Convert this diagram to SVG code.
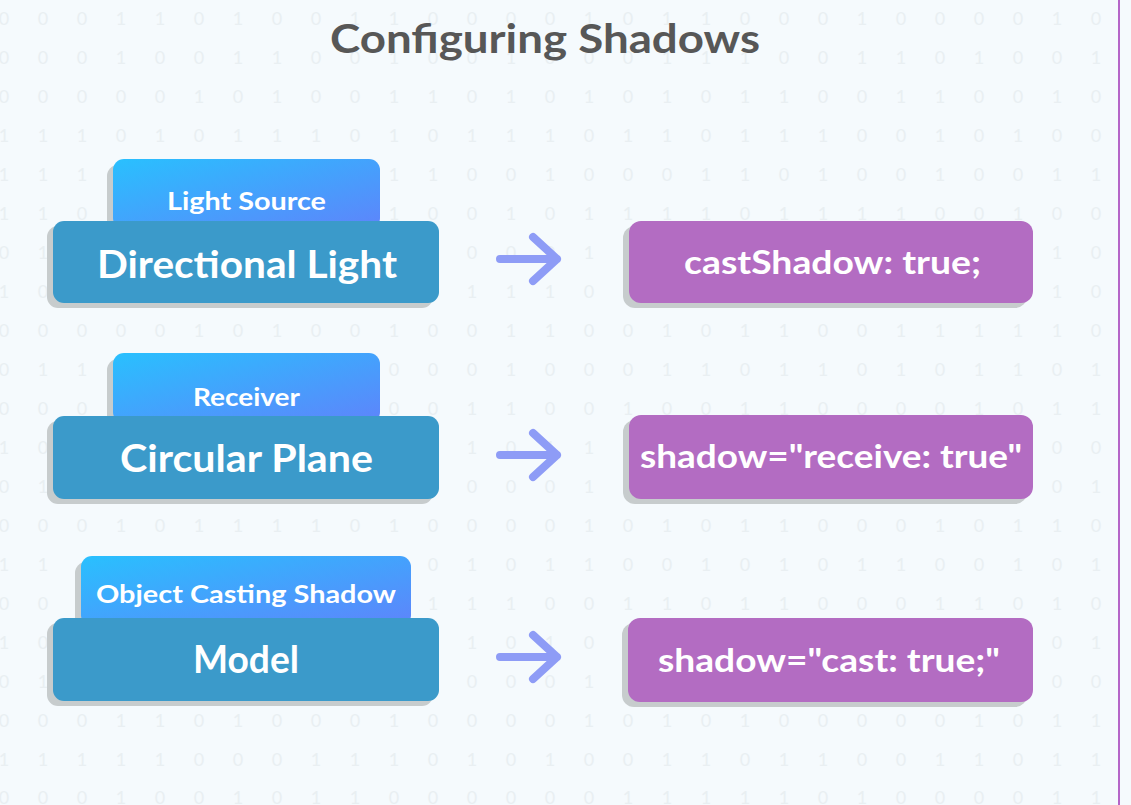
<svg xmlns="http://www.w3.org/2000/svg" width="1131" height="805" viewBox="0 0 1131 805">
<style>
.bg{fill:#f5fafd}
.dg{font-family:Lato,"Open Sans",sans-serif;font-size:18px;fill:#e9eff2;text-anchor:middle}
.title{font-family:Lato,"Open Sans",sans-serif;font-weight:700;font-size:40px;fill:#575757;text-anchor:middle}
.shadow{fill:#c7cccd}
.tab{fill:url(#tabGrad)}
.main{fill:#3b9aca}
.code{fill:#b36cc2}
.tt{font-family:Lato,"Open Sans",sans-serif;font-weight:700;font-size:25px;fill:#fff;text-anchor:middle}
.mt{font-family:Lato,"Open Sans",sans-serif;font-weight:700;font-size:38px;fill:#fff;text-anchor:middle}
.ct{font-family:Lato,"Open Sans",sans-serif;font-weight:700;font-size:33px;fill:#fff;text-anchor:middle}
.arrow{fill:none;stroke:#8e9cf6;stroke-width:8;stroke-linecap:round;stroke-linejoin:round}
</style>
<defs>
<linearGradient id="tabGrad" x1="0" y1="0" x2="1" y2="1">
<stop offset="0" stop-color="#29c0fe"/>
<stop offset="1" stop-color="#5e84fb"/>
</linearGradient>
</defs>
<rect class="bg" x="0" y="0" width="1131" height="805"/>
<g id="binary-background">
<text class="dg" y="25" x="4 43 82 121 160 199 238 277 316 355 394 433 472 511 550 589 628 667 706 745 784 823 862 901 940 979 1018 1057 1096">00011010011000010110001000010</text>
<text class="dg" y="64" x="4 43 82 121 160 199 238 277 316 355 394 433 472 511 550 589 628 667 706 745 784 823 862 901 940 979 1018 1057 1096">00010011001001000111001101001</text>
<text class="dg" y="103" x="4 43 82 121 160 199 238 277 316 355 394 433 472 511 550 589 628 667 706 745 784 823 862 901 940 979 1018 1057 1096">00000101001101010101100110010</text>
<text class="dg" y="142" x="4 43 82 121 160 199 238 277 316 355 394 433 472 511 550 589 628 667 706 745 784 823 862 901 940 979 1018 1057 1096">11101011101011101101110010100</text>
<text class="dg" y="181" x="4 43 82">111</text>
<text class="dg" y="181" x="394 433 472 511 550 589 628 667 706 745 784 823 862 901 940 979 1018 1057 1096">1100100011010010011</text>
<text class="dg" y="220" x="4 43 82">110</text>
<text class="dg" y="220" x="394 433 472 511 550 589 628 667 706 745 784 823 862 901 940 979 1018 1057 1096">1001011110111100100</text>
<text class="dg" y="259" x="4 43">01</text>
<text class="dg" y="259" x="472 511 550 589">0001</text>
<text class="dg" y="259" x="1057 1096">10</text>
<text class="dg" y="298" x="4 43">10</text>
<text class="dg" y="298" x="472 511 550 589">1110</text>
<text class="dg" y="298" x="1057 1096">10</text>
<text class="dg" y="337" x="4 43 82 121 160 199 238 277 316 355 394 433 472 511 550 589 628 667 706 745 784 823 862 901 940 979 1018 1057 1096">00000101001001100101100111110</text>
<text class="dg" y="376" x="4 43 82">011</text>
<text class="dg" y="376" x="394 433 472 511 550 589 628 667 706 745 784 823 862 901 940 979 1018 1057 1096">0001000110110101101</text>
<text class="dg" y="415" x="4 43 82">000</text>
<text class="dg" y="415" x="394 433 472 511 550 589 628 667 706 745 784 823 862 901 940 979 1018 1057 1096">0011001001100001011</text>
<text class="dg" y="454" x="4 43">10</text>
<text class="dg" y="454" x="472 511 550 589">1011</text>
<text class="dg" y="454" x="1057 1096">00</text>
<text class="dg" y="493" x="4 43">01</text>
<text class="dg" y="493" x="472 511 550 589">0001</text>
<text class="dg" y="493" x="1057 1096">01</text>
<text class="dg" y="532" x="4 43 82 121 160 199 238 277 316 355 394 433 472 511 550 589 628 667 706 745 784 823 862 901 940 979 1018 1057 1096">00010111101000010101100010110</text>
<text class="dg" y="571" x="4 43">11</text>
<text class="dg" y="571" x="433 472 511 550 589 628 667 706 745 784 823 862 901 940 979 1018 1057 1096">010110010101100101</text>
<text class="dg" y="610" x="4 43">00</text>
<text class="dg" y="610" x="433 472 511 550 589 628 667 706 745 784 823 862 901 940 979 1018 1057 1096">111001101100011010</text>
<text class="dg" y="649" x="4 43">10</text>
<text class="dg" y="649" x="472 511 550 589">1010</text>
<text class="dg" y="649" x="1057 1096">01</text>
<text class="dg" y="688" x="4 43">01</text>
<text class="dg" y="688" x="472 511 550 589">0001</text>
<text class="dg" y="688" x="1057 1096">00</text>
<text class="dg" y="727" x="4 43 82 121 160 199 238 277 316 355 394 433 472 511 550 589 628 667 706 745 784 823 862 901 940 979 1018 1057 1096">00011010001000010101000001011</text>
<text class="dg" y="766" x="4 43 82 121 160 199 238 277 316 355 394 433 472 511 550 589 628 667 706 745 784 823 862 901 940 979 1018 1057 1096">11111000111010100110110011011</text>
<text class="dg" y="804" x="4 43 82 121 160 199 238 277 316 355 394 433 472 511 550 589 628 667 706 745 784 823 862 901 940 979 1018 1057 1096">00010010110000001111101000011</text>
</g>
<line x1="1119" y1="0" x2="1119" y2="805" stroke="#b565c8" stroke-width="2"/>
<text class="title" x="545" y="53" textLength="430" lengthAdjust="spacingAndGlyphs">Configuring Shadows</text>

<g id="node-directional-light">
<rect class="shadow" x="107" y="165" width="267" height="70" rx="11"/>
<rect class="tab" x="113" y="159" width="267" height="70" rx="11"/>
<text class="tt" x="246.5" y="210" textLength="159" lengthAdjust="spacingAndGlyphs">Light Source</text>
<rect class="shadow" x="47" y="226" width="386" height="82" rx="11"/>
<rect class="main" x="53" y="221" width="386" height="82" rx="11"/>
<text class="mt" x="247" y="278" textLength="300" lengthAdjust="spacingAndGlyphs">Directional Light</text>
</g>
<g id="node-cast-shadow-true">
<rect class="shadow" x="623" y="226" width="404" height="82" rx="12"/>
<rect class="code" x="629" y="221" width="404" height="82" rx="12"/>
<text class="ct" x="832.5" y="274" textLength="297" lengthAdjust="spacingAndGlyphs">castShadow: true;</text>
</g>

<g id="node-circular-plane">
<rect class="shadow" x="107" y="359" width="267" height="70" rx="11"/>
<rect class="tab" x="113" y="353" width="267" height="70" rx="11"/>
<text class="tt" x="246.5" y="406" textLength="107" lengthAdjust="spacingAndGlyphs">Receiver</text>
<rect class="shadow" x="47" y="421" width="386" height="83" rx="11"/>
<rect class="main" x="53" y="416" width="386" height="83" rx="11"/>
<text class="mt" x="246.5" y="472" textLength="253" lengthAdjust="spacingAndGlyphs">Circular Plane</text>
</g>
<g id="node-shadow-receive">
<rect class="shadow" x="623" y="420" width="404" height="84" rx="12"/>
<rect class="code" x="629" y="415" width="404" height="84" rx="12"/>
<text class="ct" x="831" y="468" textLength="382" lengthAdjust="spacingAndGlyphs">shadow="receive: true"</text>
</g>

<g id="node-model">
<rect class="shadow" x="75" y="562" width="330" height="70" rx="11"/>
<rect class="tab" x="81" y="556" width="330" height="70" rx="11"/>
<text class="tt" x="246" y="603" textLength="300" lengthAdjust="spacingAndGlyphs">Object Casting Shadow</text>
<rect class="shadow" x="47" y="623" width="386" height="83" rx="11"/>
<rect class="main" x="53" y="618" width="386" height="83" rx="11"/>
<text class="mt" x="246" y="673" textLength="106" lengthAdjust="spacingAndGlyphs">Model</text>
</g>
<g id="node-shadow-cast">
<rect class="shadow" x="622" y="623" width="405" height="84" rx="12"/>
<rect class="code" x="628" y="618" width="405" height="84" rx="12"/>
<text class="ct" x="829" y="672" textLength="342" lengthAdjust="spacingAndGlyphs">shadow="cast: true;"</text>
</g>

<g id="connectors">
<path class="arrow" d="M500 259 H557 M533 237 L557 259 L533 281"/>
<path class="arrow" d="M500 455 H557 M533 433 L557 455 L533 477"/>
<path class="arrow" d="M500 657 H557 M533 635 L557 657 L533 679"/>
</g>
</svg>
